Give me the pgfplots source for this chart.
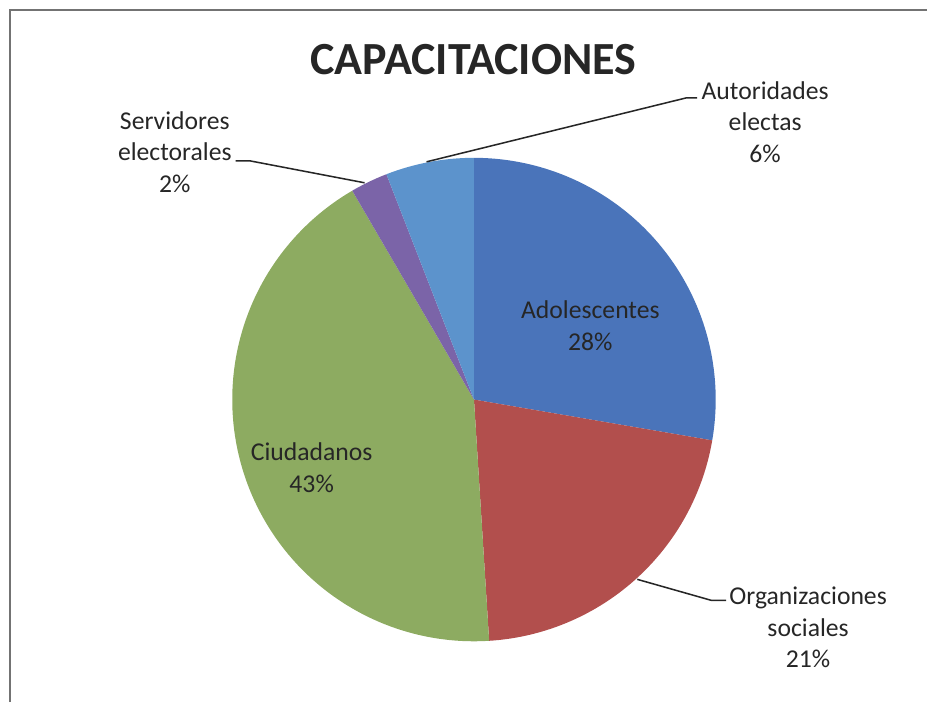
\documentclass[border=0pt]{standalone}
\usepackage{pgfplots}
\pgfplotsset{compat=1.18}
\usepackage{fontspec}
\setmainfont{Carlito}
\definecolor{cA}{HTML}{4A74BA}
\definecolor{cB}{HTML}{B24F4D}
\definecolor{cC}{HTML}{8DAB61}
\definecolor{cD}{HTML}{7B64A8}
\definecolor{cE}{HTML}{5C93CC}
\definecolor{txt}{HTML}{262626}
% shares in percent
\def\vA{27.7}% Adolescentes
\def\vB{21.3}% Organizaciones sociales
\def\vC{42.6}% Ciudadanos
\def\vD{2.5}%  Servidores electorales
\def\vE{5.9}%  Autoridades electas
\pgfmathsetmacro\aA{90}
\pgfmathsetmacro\aB{\aA-3.6*\vA}
\pgfmathsetmacro\aC{\aB-3.6*\vB}
\pgfmathsetmacro\aD{\aC-3.6*\vC}
\pgfmathsetmacro\aE{\aD-3.6*\vD}
\pgfmathsetmacro\aF{\aE-3.6*\vE}
\def\cx{474.5}
\def\cy{303}
\def\R{242}
\begin{document}
\begin{tikzpicture}
\begin{axis}[scale only axis, width=16cm, height=12.1207cm,
  xmin=0, xmax=928, ymin=0, ymax=703, hide axis, clip=false]
\path (rel axis cs:0,0) rectangle (rel axis cs:1,1);
% frame
\addplot[color=black!55, line width=1pt] coordinates {(10,0) (10,693) (928,693)};
% wedges
\addplot[fill=cA, draw=none, domain=\aB:\aA, samples=100, variable=\t]
  ({\cx+\R*cos(t)},{\cy+\R*sin(t)}) -- (axis cs:\cx,\cy) -- cycle;
\addplot[fill=cB, draw=none, domain=\aC:\aB, samples=100, variable=\t]
  ({\cx+\R*cos(t)},{\cy+\R*sin(t)}) -- (axis cs:\cx,\cy) -- cycle;
\addplot[fill=cC, draw=none, domain=\aD:\aC, samples=150, variable=\t]
  ({\cx+\R*cos(t)},{\cy+\R*sin(t)}) -- (axis cs:\cx,\cy) -- cycle;
\addplot[fill=cD, draw=none, domain=\aE:\aD, samples=20, variable=\t]
  ({\cx+\R*cos(t)},{\cy+\R*sin(t)}) -- (axis cs:\cx,\cy) -- cycle;
\addplot[fill=cE, draw=none, domain=\aF:\aE, samples=30, variable=\t]
  ({\cx+\R*cos(t)},{\cy+\R*sin(t)}) -- (axis cs:\cx,\cy) -- cycle;
% leader lines
\addplot[color=txt, line width=0.75pt] coordinates {(236,542) (250,542) (365,520)};
\addplot[color=txt, line width=0.75pt] coordinates {(698,605) (687,605) (427,541)};
\addplot[color=txt, line width=0.75pt] coordinates {(638,123) (712,102) (727,102)};
% labels
\node[font=\bfseries\fontsize{22.6}{26}\selectfont, text=txt] at (axis cs:474,643) {CAPACITACIONES};
\node[align=center, text=txt, font=\fontsize{12.6}{15.5}\selectfont] at (axis cs:175,551) {Servidores\\electorales\\2\%};
\node[align=center, text=txt, font=\fontsize{12.6}{15.5}\selectfont] at (axis cs:766,581) {Autoridades\\electas\\6\%};
\node[align=center, text=txt, font=\fontsize{12.6}{15.5}\selectfont] at (axis cs:591,377) {Adolescentes\\28\%};
\node[align=center, text=txt, font=\fontsize{12.6}{15.5}\selectfont] at (axis cs:312,235) {Ciudadanos\\43\%};
\node[align=center, text=txt, font=\fontsize{12.6}{15.5}\selectfont] at (axis cs:809,75) {Organizaciones\\sociales\\21\%};
\end{axis}
\end{tikzpicture}
\end{document}
